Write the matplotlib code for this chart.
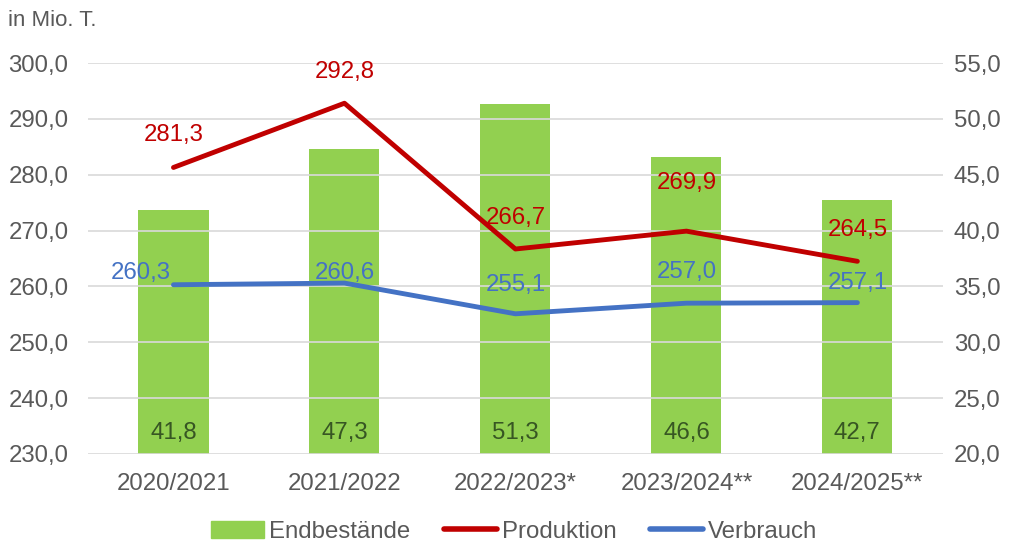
import matplotlib.pyplot as plt
from matplotlib.transforms import blended_transform_factory

plt.rcParams['font.family'] = ['Liberation Sans', 'DejaVu Sans']

seasons = ["2020/2021", "2021/2022", "2022/2023*", "2023/2024**", "2024/2025**"]
endbestaende = [41.8, 47.3, 51.3, 46.6, 42.7]
produktion = [281.3, 292.8, 266.7, 269.9, 264.5]
verbrauch = [260.3, 260.6, 255.1, 257.0, 257.1]

green = "#92D050"
red = "#C00000"
blue = "#4472C4"
grey = "#595959"
fs = 17.3

def fmt(v):
    return f"{v:.1f}".replace(".", ",")

fig = plt.figure(figsize=(10.16, 5.46), dpi=100)
ax = fig.add_axes([0.0866, 0.1685, 0.8414, 0.7161])
ax2 = ax.twinx()

x = list(range(len(seasons)))

# bars on the right axis, drawn below the lines
ax2.set_zorder(1)
ax.set_zorder(2)
ax.patch.set_visible(False)

ax2.bar(x, endbestaende, width=0.41, color=green, zorder=2)
ax2.set_ylim(20, 55)
ax2.set_yticks([20 + 5 * i for i in range(8)])
ax2.set_yticklabels([fmt(20 + 5 * i) for i in range(8)])

ax.plot(x, produktion, color=red, lw=3.5, solid_capstyle='round', solid_joinstyle='round')
ax.plot(x, verbrauch, color=blue, lw=3.5, solid_capstyle='round', solid_joinstyle='round')
ax.set_ylim(230, 300)
ax.set_xlim(-0.5, len(seasons) - 0.5)
ax.set_yticks([230 + 10 * i for i in range(8)])
ax.set_yticklabels([fmt(230 + 10 * i) for i in range(8)])
ax.set_xticks(x)
ax.set_xticklabels(seasons)

for i in range(8):
    ax.axhline(230 + 10 * i, color="#D9D9D9", lw=1.2, zorder=0)

for a in (ax, ax2):
    for s in a.spines.values():
        s.set_visible(False)
    a.tick_params(length=0, labelsize=fs, colors=grey)
ax.tick_params(axis='y', pad=14)
ax2.tick_params(axis='y', pad=8)
ax.tick_params(axis='x', pad=14)

# bar labels near the base
tr = blended_transform_factory(ax2.transData, ax2.transAxes)
for xi, v in zip(x, endbestaende):
    ax2.text(xi, 0.054, fmt(v), transform=tr, ha='center', va='center',
             fontsize=fs, color="#375623")

# line labels
prod_off = [(0, 32), (0, 31), (0, 31), (0, 48), (0, 31)]
verb_off = [(-33, 12), (0, 10), (0, 29), (0, 31), (0, 20)]
for xi, v, o in zip(x, produktion, prod_off):
    ax.annotate(fmt(v), (xi, v), xytext=o, textcoords='offset pixels',
                ha='center', va='center', fontsize=fs, color=red)
for xi, v, o in zip(x, verbrauch, verb_off):
    ax.annotate(fmt(v), (xi, v), xytext=o, textcoords='offset pixels',
                ha='center', va='center', fontsize=fs, color=blue)

fig.text(0.008, 0.962, "in Mio. T.", fontsize=16, color=grey, va='center', ha='left')

handles = [
    plt.Rectangle((0, 0), 1, 1, color=green),
    plt.Line2D([], [], color=red, lw=4, solid_capstyle='round'),
    plt.Line2D([], [], color=blue, lw=4, solid_capstyle='round'),
]
leg = fig.legend(handles, ["Endbestände", "Produktion", "Verbrauch"], loc='center',
                 bbox_to_anchor=(0.506, 0.026), ncol=3, frameon=False, fontsize=fs,
                 handlelength=2.2, handletextpad=0.2, columnspacing=1.4)
for t in leg.get_texts():
    t.set_color(grey)

fig.savefig("out.png", dpi=100)
